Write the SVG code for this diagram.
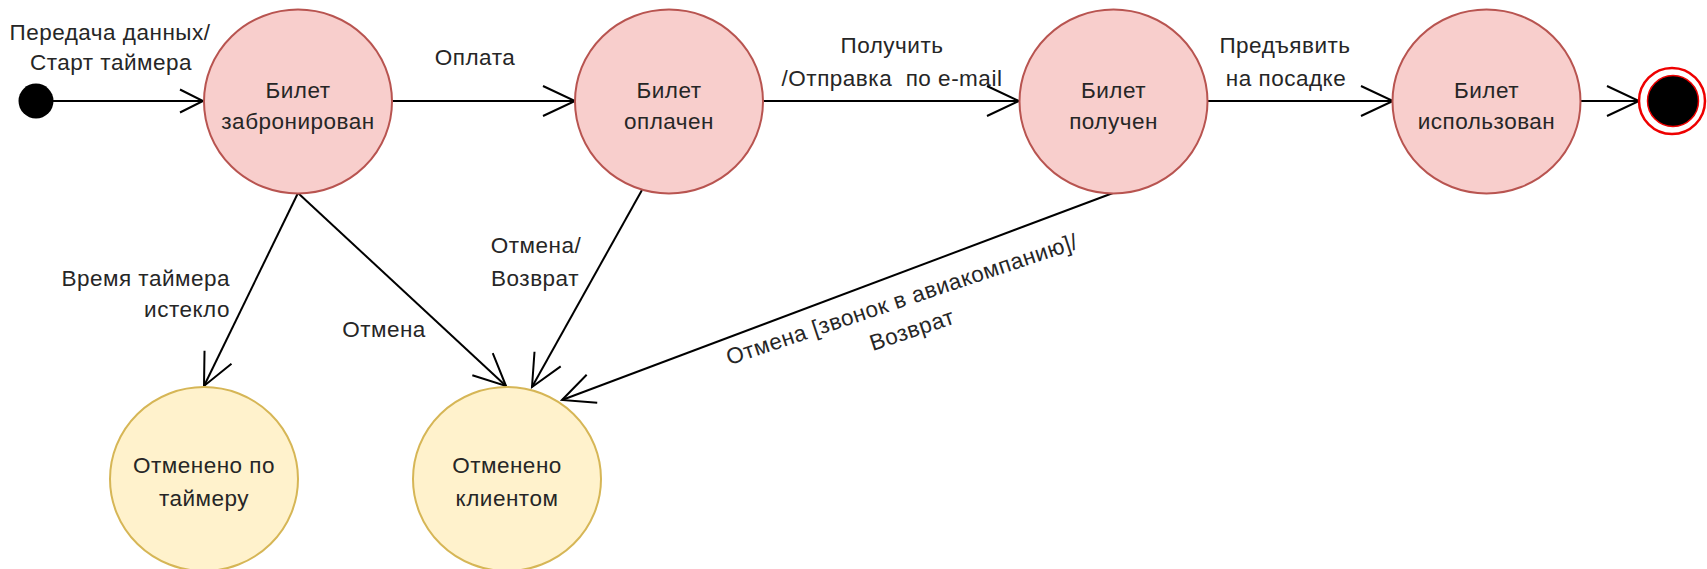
<svg xmlns="http://www.w3.org/2000/svg" width="1707" height="569" viewBox="0 0 1707 569">
<style>
text{font-family:"Liberation Sans",Arial,sans-serif;font-size:22.5px;letter-spacing:0.5px;fill:#262626;white-space:pre}
.m{text-anchor:middle}
.e{text-anchor:end}
.st{fill:#f8cecc;stroke:#b85450;stroke-width:2}
.cn{fill:#fff2cc;stroke:#d6b656;stroke-width:2}
.ln{fill:none;stroke:#000;stroke-width:2}
</style>
<defs>
<marker id="ab" markerUnits="userSpaceOnUse" markerWidth="40" markerHeight="40" refX="32" refY="15" orient="auto" overflow="visible">
<path d="M0,0 L32,15 L0,30" fill="none" stroke="#000" stroke-width="2"/>
</marker>
<marker id="as" markerUnits="userSpaceOnUse" markerWidth="30" markerHeight="30" refX="23" refY="11.5" orient="auto" overflow="visible">
<path d="M0,0 L23,11.5 L0,23" fill="none" stroke="#000" stroke-width="2"/>
</marker>
</defs>
<rect width="1707" height="569" fill="#fff"/>
<g id="connectors">
<line class="ln" x1="53" y1="101" x2="203" y2="101" marker-end="url(#as)"/>
<line class="ln" x1="392" y1="101" x2="575" y2="101" marker-end="url(#ab)"/>
<line class="ln" x1="763" y1="101" x2="1019" y2="101" marker-end="url(#ab)"/>
<line class="ln" x1="1208" y1="101" x2="1393" y2="101" marker-end="url(#ab)"/>
<line class="ln" x1="1580" y1="101" x2="1639" y2="101" marker-end="url(#ab)"/>
<line class="ln" x1="298" y1="193" x2="204" y2="386" marker-end="url(#ab)"/>
<line class="ln" x1="298" y1="193" x2="506" y2="386" marker-end="url(#ab)"/>
<line class="ln" x1="642" y1="190" x2="532" y2="387" marker-end="url(#ab)"/>
<line class="ln" x1="1113" y1="193" x2="562" y2="400" marker-end="url(#ab)"/>
<text class="m" x="110" y="40">Передача данных/</text>
<text class="m" x="111" y="70">Старт таймера</text>
<text class="m" x="475" y="65">Оплата</text>
<text class="m" x="892" y="53">Получить</text>
<text class="m" x="892" y="86">/Отправка  по e-mail</text>
<text class="m" x="1285" y="53">Предъявить</text>
<text class="m" x="1286" y="86">на посадке</text>
<text class="e" x="230" y="286">Время таймера</text>
<text class="e" x="230" y="317">истекло</text>
<text class="m" x="384" y="337">Отмена</text>
<text class="m" x="536" y="253">Отмена/</text>
<text class="m" x="535" y="286">Возврат</text>
<g transform="translate(902,300) rotate(-18.5)">
<text class="m" x="0" y="7">Отмена [звонок в авиакомпанию]/</text>
<text class="m" x="0" y="39">Возврат</text>
</g>
</g>
<g id="start"><circle cx="36" cy="101" r="17.5" fill="#000"/></g>
<g id="booked"><ellipse class="st" cx="298" cy="101.5" rx="94" ry="92"/><text class="m" x="298" y="98">Билет</text><text class="m" x="298" y="129">забронирован</text></g>
<g id="paid"><ellipse class="st" cx="669" cy="101.5" rx="94" ry="92"/><text class="m" x="669" y="98">Билет</text><text class="m" x="669" y="129">оплачен</text></g>
<g id="received"><ellipse class="st" cx="1113.5" cy="101.5" rx="94" ry="92"/><text class="m" x="1113.5" y="98">Билет</text><text class="m" x="1113.5" y="129">получен</text></g>
<g id="used"><ellipse class="st" cx="1486.5" cy="101.5" rx="94" ry="92"/><text class="m" x="1486.5" y="98">Билет</text><text class="m" x="1486.5" y="129">использован</text></g>
<g id="end"><circle cx="1672" cy="101" r="33" fill="#fff" stroke="#e00" stroke-width="2.5"/><circle cx="1673" cy="101" r="25.5" fill="#000" stroke="#e00" stroke-width="1.5"/></g>
<g id="cancel-timer"><ellipse class="cn" cx="204" cy="479" rx="94" ry="92"/><text class="m" x="204" y="473">Отменено по</text><text class="m" x="204" y="506">таймеру</text></g>
<g id="cancel-client"><ellipse class="cn" cx="507" cy="479" rx="94" ry="92"/><text class="m" x="507" y="473">Отменено</text><text class="m" x="507" y="506">клиентом</text></g>
</svg>
